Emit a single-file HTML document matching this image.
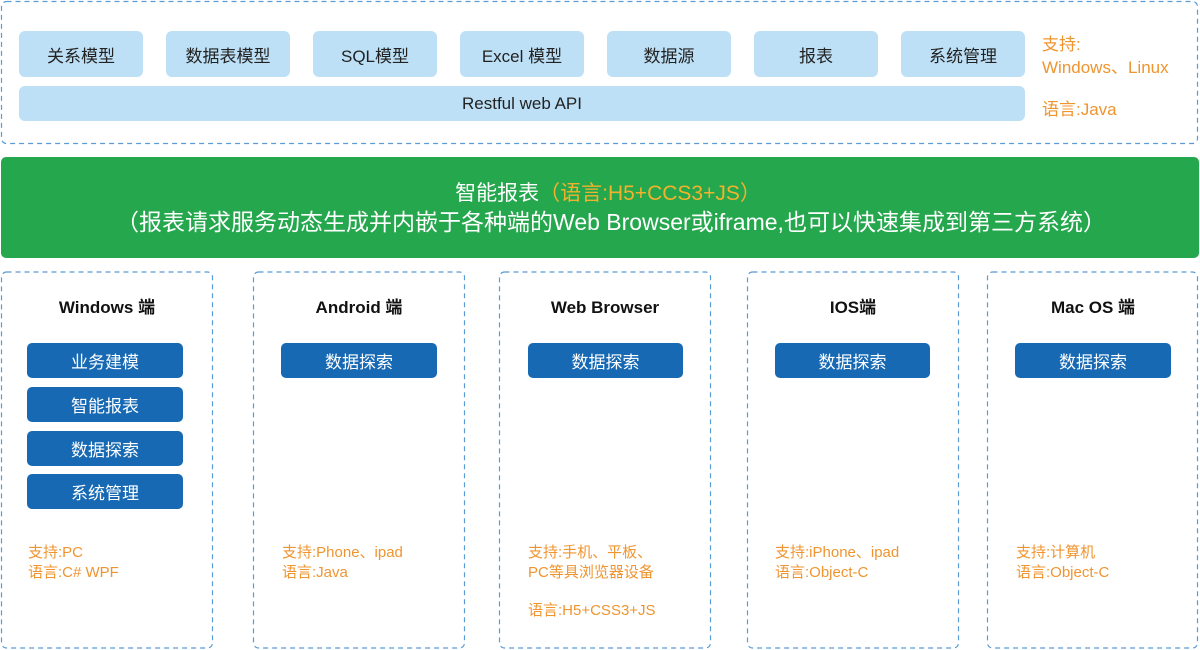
<!DOCTYPE html>
<html><head><meta charset="utf-8">
<style>
*{margin:0;padding:0;box-sizing:border-box}
body{width:1200px;height:650px;background:#fff;position:relative;overflow:hidden;font-family:"Liberation Sans","Noto Sans CJK SC",sans-serif}
.a{position:absolute}
.lb{position:absolute;background:#bde0f6;border-radius:6px;color:#222;font-size:17px;display:flex;align-items:center;justify-content:center;white-space:nowrap}
.db{position:absolute;background:#1769b4;border-radius:5px;color:#fff;font-size:17px;display:flex;align-items:center;justify-content:center;white-space:nowrap}
.t{position:absolute;font-weight:bold;font-size:17px;line-height:22px;height:22px;color:#111;text-align:center;white-space:nowrap}
.o{position:absolute;color:#ef9530;font-size:15px;line-height:20px;white-space:nowrap}
</style></head><body>
<svg class="a" style="left:0;top:0" width="1200" height="650">
<g fill="none" stroke="#5b9bd5" stroke-width="1.2" stroke-dasharray="5,4">
<rect x="1.5" y="1.5" width="1196" height="142" rx="5"/>
<rect x="1.5" y="272" width="211" height="376" rx="5"/>
<rect x="253.5" y="272" width="211" height="376" rx="5"/>
<rect x="499.5" y="272" width="211" height="376" rx="5"/>
<rect x="747.5" y="272" width="211" height="376" rx="5"/>
<rect x="987.5" y="272" width="210" height="376" rx="5"/>
</g>
<rect x="1" y="157" width="1198" height="101" rx="5" fill="#25a74e"/>
</svg>

<div class="lb" style="left:19px;top:31px;width:124px;height:46px">关系模型</div>
<div class="lb" style="left:166px;top:31px;width:124px;height:46px">数据表模型</div>
<div class="lb" style="left:313px;top:31px;width:124px;height:46px">SQL模型</div>
<div class="lb" style="left:460px;top:31px;width:124px;height:46px">Excel 模型</div>
<div class="lb" style="left:607px;top:31px;width:124px;height:46px">数据源</div>
<div class="lb" style="left:754px;top:31px;width:124px;height:46px">报表</div>
<div class="lb" style="left:901px;top:31px;width:124px;height:46px">系统管理</div>
<div class="lb" style="left:19px;top:86px;width:1006px;height:35px">Restful web API</div>

<div class="a" style="left:1042px;top:33px;color:#ef9530;font-size:17px;line-height:23px;white-space:nowrap">支持:<br>Windows、Linux</div>
<div class="a" style="left:1042px;top:98px;color:#ef9530;font-size:17px;line-height:23px;white-space:nowrap">语言:Java</div>

<div class="a" style="left:0;top:180px;width:1216px;text-align:center;color:#fff;font-size:21px;line-height:28px;white-space:nowrap">智能报表<span style="color:#f2b22c">（语言:H5+CCS3+JS）</span></div>
<div class="a" style="left:0;top:208px;width:1222px;text-align:center;color:#fff;font-size:23px;line-height:28px;white-space:nowrap">（报表请求服务动态生成并内嵌于各种端的Web Browser或iframe,也可以快速集成到第三方系统）</div>

<div class="t" style="left:1px;top:297px;width:212px">Windows 端</div>
<div class="t" style="left:253px;top:297px;width:212px">Android 端</div>
<div class="t" style="left:499px;top:297px;width:212px">Web Browser</div>
<div class="t" style="left:747px;top:297px;width:212px">IOS端</div>
<div class="t" style="left:987px;top:297px;width:212px">Mac OS 端</div>

<div class="db" style="left:27px;top:343px;width:156px;height:35px">业务建模</div>
<div class="db" style="left:27px;top:387px;width:156px;height:35px">智能报表</div>
<div class="db" style="left:27px;top:431px;width:156px;height:35px">数据探索</div>
<div class="db" style="left:27px;top:474px;width:156px;height:35px">系统管理</div>
<div class="db" style="left:281px;top:343px;width:156px;height:35px">数据探索</div>
<div class="db" style="left:528px;top:343px;width:155px;height:35px">数据探索</div>
<div class="db" style="left:775px;top:343px;width:155px;height:35px">数据探索</div>
<div class="db" style="left:1015px;top:343px;width:156px;height:35px">数据探索</div>

<div class="o" style="left:28px;top:543px">支持:PC<br>语言:C# WPF</div>
<div class="o" style="left:282px;top:543px">支持:Phone、ipad<br>语言:Java</div>
<div class="o" style="left:528px;top:543px">支持:手机、平板、<br>PC等具浏览器设备</div>
<div class="o" style="left:528px;top:601px">语言:H5+CSS3+JS</div>
<div class="o" style="left:775px;top:543px">支持:iPhone、ipad<br>语言:Object-C</div>
<div class="o" style="left:1016px;top:543px">支持:计算机<br>语言:Object-C</div>
</body></html>
